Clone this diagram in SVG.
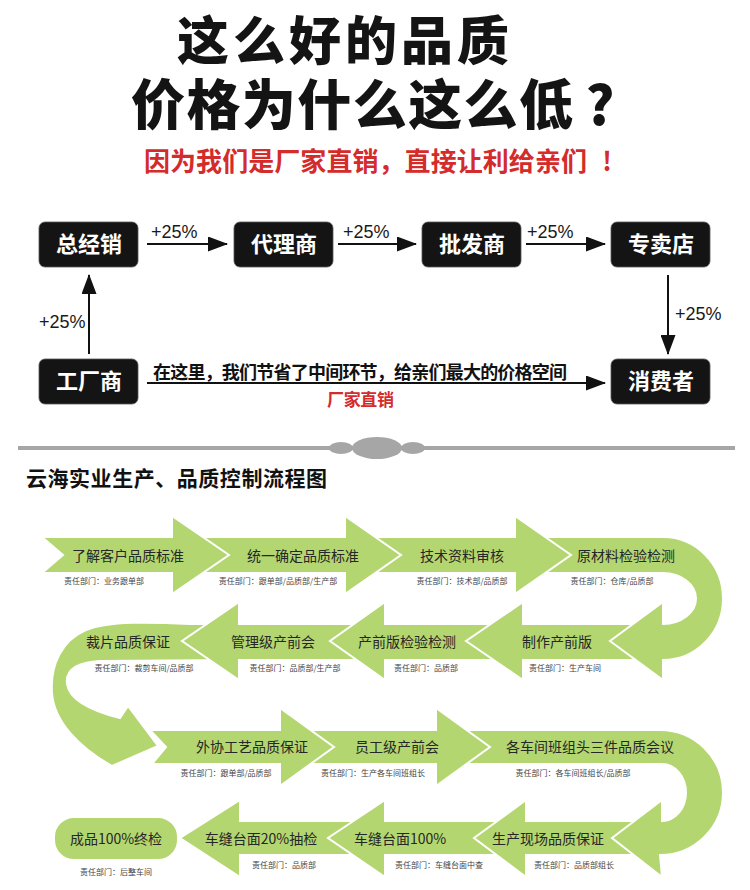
<svg xmlns="http://www.w3.org/2000/svg" width="750" height="890" viewBox="0 0 750 890">
<defs>
<style>
.cjk{font-family:"Noto Sans CJK SC",sans-serif}
.title{font-family:"Noto Sans CJK SC",sans-serif;font-weight:900;fill:#141414}
.red{font-family:"Noto Sans CJK SC",sans-serif;font-weight:700;fill:#d42b2b}
.box{fill:#141414;stroke:#555;stroke-width:0.8}
.bt{font-family:"Noto Sans CJK SC",sans-serif;font-weight:700;font-size:22px;fill:#fff;text-anchor:middle}
.pct{font-family:"Liberation Sans",sans-serif;font-size:18px;fill:#1a1a1a}
.con{stroke:#111;stroke-width:2;fill:none}
.g{fill:#b4d670;stroke:#fff;stroke-width:2;stroke-linejoin:miter}
.t{font-family:"Noto Sans CJK SC",sans-serif;font-size:14px;fill:#262626;text-anchor:middle}
.s{font-family:"Noto Sans CJK SC",sans-serif;font-size:8px;fill:#444;text-anchor:middle}
</style>
<marker id="ah" markerUnits="userSpaceOnUse" markerWidth="20" markerHeight="15" refX="19" refY="7.5" orient="auto">
<path d="M0,0 L20,7.5 L0,15 Z" fill="#111"/>
</marker>
</defs>
<rect width="750" height="890" fill="#fff"/>

<g id="headline">
<text class="title" x="177" y="60" font-size="52" textLength="332" lengthAdjust="spacing">这么好的品质</text>
<text class="title" x="131" y="125" font-size="54" textLength="442" lengthAdjust="spacing">价格为什么这么低</text>
<text class="title" x="600" y="125" font-size="54" text-anchor="middle">?</text>
<text class="red" x="144" y="171" font-size="26" textLength="443" lengthAdjust="spacing">因为我们是厂家直销，直接让利给亲们</text>
<text class="red" x="607" y="171" font-size="26" text-anchor="middle">!</text>
</g>

<g id="connectors">
<line class="con" x1="147" y1="244" x2="227" y2="244" marker-end="url(#ah)"/>
<line class="con" x1="338" y1="244" x2="416" y2="244" marker-end="url(#ah)"/>
<line class="con" x1="526" y1="244" x2="605" y2="244" marker-end="url(#ah)"/>
<line class="con" x1="668" y1="275" x2="668" y2="354" marker-end="url(#ah)"/>
<line class="con" x1="89" y1="354" x2="89" y2="275" marker-end="url(#ah)"/>
<line class="con" x1="147" y1="383" x2="605" y2="383" marker-end="url(#ah)"/>
<text class="pct" x="151" y="238">+25%</text>
<text class="pct" x="343" y="238">+25%</text>
<text class="pct" x="527" y="238">+25%</text>
<text class="pct" x="39" y="328">+25%</text>
<text class="pct" x="675" y="320">+25%</text>
<text class="cjk" x="153" y="379" font-size="18" font-weight="700" fill="#111" textLength="414" lengthAdjust="spacing">在这里，我们节省了中间环节，给亲们最大的价格空间</text>
<text class="red" x="327" y="406" font-size="17" textLength="67" lengthAdjust="spacing">厂家直销</text>
</g>

<g id="n-zongjingxiao"><rect class="box" x="39" y="222" width="99" height="45" rx="6"/><text class="bt" x="89" y="252">总经销</text></g>
<g id="n-dailishang"><rect class="box" x="234" y="222" width="99" height="45" rx="6"/><text class="bt" x="284" y="252">代理商</text></g>
<g id="n-pifashang"><rect class="box" x="422" y="222" width="99" height="45" rx="6"/><text class="bt" x="472" y="252">批发商</text></g>
<g id="n-zhuanmaidian"><rect class="box" x="611" y="222" width="99" height="45" rx="6"/><text class="bt" x="661" y="252">专卖店</text></g>
<g id="n-gongchangshang"><rect class="box" x="39" y="359" width="99" height="45" rx="6"/><text class="bt" x="89" y="389">工厂商</text></g>
<g id="n-xiaofeizhe"><rect class="box" x="611" y="359" width="99" height="45" rx="6"/><text class="bt" x="661" y="389">消费者</text></g>

<g id="separator">
<line x1="18" y1="448" x2="735" y2="448" stroke="#a6a6a6" stroke-width="4"/>
<ellipse cx="341" cy="448" rx="12" ry="6" fill="#a6a6a6"/>
<ellipse cx="413" cy="448" rx="12" ry="6" fill="#a6a6a6"/>
<ellipse cx="377" cy="448" rx="25" ry="11" fill="#a6a6a6"/>
<text class="cjk" x="26" y="486" font-size="21" font-weight="700" fill="#111" textLength="301" lengthAdjust="spacing">云海实业生产、品质控制流程图</text>
</g>

<g id="step15">
<rect class="g" x="54" y="817" width="124" height="43" rx="20"/>
<text class="t" x="116" y="844">成品100%终检</text>
<text class="s" x="116" y="875">责任部门：后整车间</text>
</g>
<g id="step14">
<path class="g" d="M385,821 L240,821 L240,800 L180,838 L240,877 L240,855 L385,855 Z"/>
<text class="t" x="261" y="844">车缝台面20%抽检</text>
<text class="s" x="284" y="868">责任部门：品质部</text>
</g>
<g id="step13">
<path class="g" d="M526,821 L385,821 L385,800 L328,838 L385,877 L385,855 L526,855 Z"/>
<text class="t" x="400" y="844">车缝台面100%</text>
<text class="s" x="439" y="868">责任部门：车缝台面中查</text>
</g>
<g id="step12">
<path class="g" d="M662,821 L526,821 L526,800 L474,838 L526,877 L526,855 L662,855 Z"/>
<text class="t" x="548" y="844">生产现场品质保证</text>
<text class="s" x="574" y="868">责任部门：品质部组长</text>
</g>
<g id="step11">
<path class="g" d="M436,730 L660,730 A63,62.5 0 0 1 660,855 L662,877 L612,838 L662,800 L662,821 A24,28.5 0 0 0 662,764 L436,764 Z"/>
<text class="t" x="590" y="752">各车间班组头三件品质会议</text>
<text class="s" x="573" y="776">责任部门：各车间班组长/品质部</text>
</g>
<g id="step10">
<path class="g" d="M280,730 L436,730 L436,708 L490,747 L436,786 L436,764 L280,764 Z"/>
<text class="t" x="397" y="752">员工级产前会</text>
<text class="s" x="373" y="776">责任部门：生产各车间班组长</text>
</g>
<g id="step9">
<path class="g" d="M150,730 L280,730 L280,708 L334,747 L280,786 L280,764 L152,764 L166,747 Z"/>
<text class="t" x="252" y="752">外协工艺品质保证</text>
<text class="s" x="226" y="776">责任部门：跟单部/品质部</text>
</g>
<g id="step8">
<path class="g" d="M239,624 L190,624 C150,622 110,621 86,630 C62,640 50,665 52,693 C54,722 80,748 112,766 L158,746 L128,706 L120,718 C96,712 70,702 67,684 C65,668 80,662 100,661 L239,660 Z"/>
<text class="t" x="128" y="647">裁片品质保证</text>
<text class="s" x="144" y="671">责任部门：裁剪车间/品质部</text>
</g>
<g id="step7">
<path class="g" d="M385,624 L239,624 L239,602 L182,641 L239,680 L239,660 L385,660 Z"/>
<text class="t" x="273" y="647">管理级产前会</text>
<text class="s" x="295" y="671">责任部门：品质部/生产部</text>
</g>
<g id="step6">
<path class="g" d="M523,624 L385,624 L385,602 L330,641 L385,680 L385,660 L523,660 Z"/>
<text class="t" x="407" y="647">产前版检验检测</text>
<text class="s" x="426" y="671">责任部门：品质部</text>
</g>
<g id="step5">
<path class="g" d="M663,624 L523,624 L523,602 L466,641 L523,680 L523,660 L663,660 Z"/>
<text class="t" x="557" y="647">制作产前版</text>
<text class="s" x="565" y="671">责任部门：生产车间</text>
</g>
<g id="step4">
<path class="g" d="M515,537 L663,537 A60,61.5 0 0 1 663,660 L663,680 L610,641 L663,602 L663,624 A33,25.5 0 0 0 663,573 L515,573 Z"/>
<text class="t" x="626" y="561">原材料检验检测</text>
<text class="s" x="612" y="584">责任部门：仓库/品质部</text>
</g>
<g id="step3">
<path class="g" d="M345,537 L515,537 L515,516 L571,555 L515,594 L515,573 L345,573 Z"/>
<text class="t" x="462" y="561">技术资料审核</text>
<text class="s" x="462" y="584">责任部门：技术部/品质部</text>
</g>
<g id="step2">
<path class="g" d="M172,537 L345,537 L345,516 L401,555 L345,594 L345,573 L172,573 Z"/>
<text class="t" x="303" y="561">统一确定品质标准</text>
<text class="s" x="278" y="584">责任部门：跟单部/品质部/生产部</text>
</g>
<g id="step1">
<path class="g" d="M42,537 L172,537 L172,516 L229,555 L172,594 L172,573 L42,573 L63,555 Z"/>
<text class="t" x="128" y="561">了解客户品质标准</text>
<text class="s" x="104" y="584">责任部门：业务跟单部</text>
</g>
</svg>
